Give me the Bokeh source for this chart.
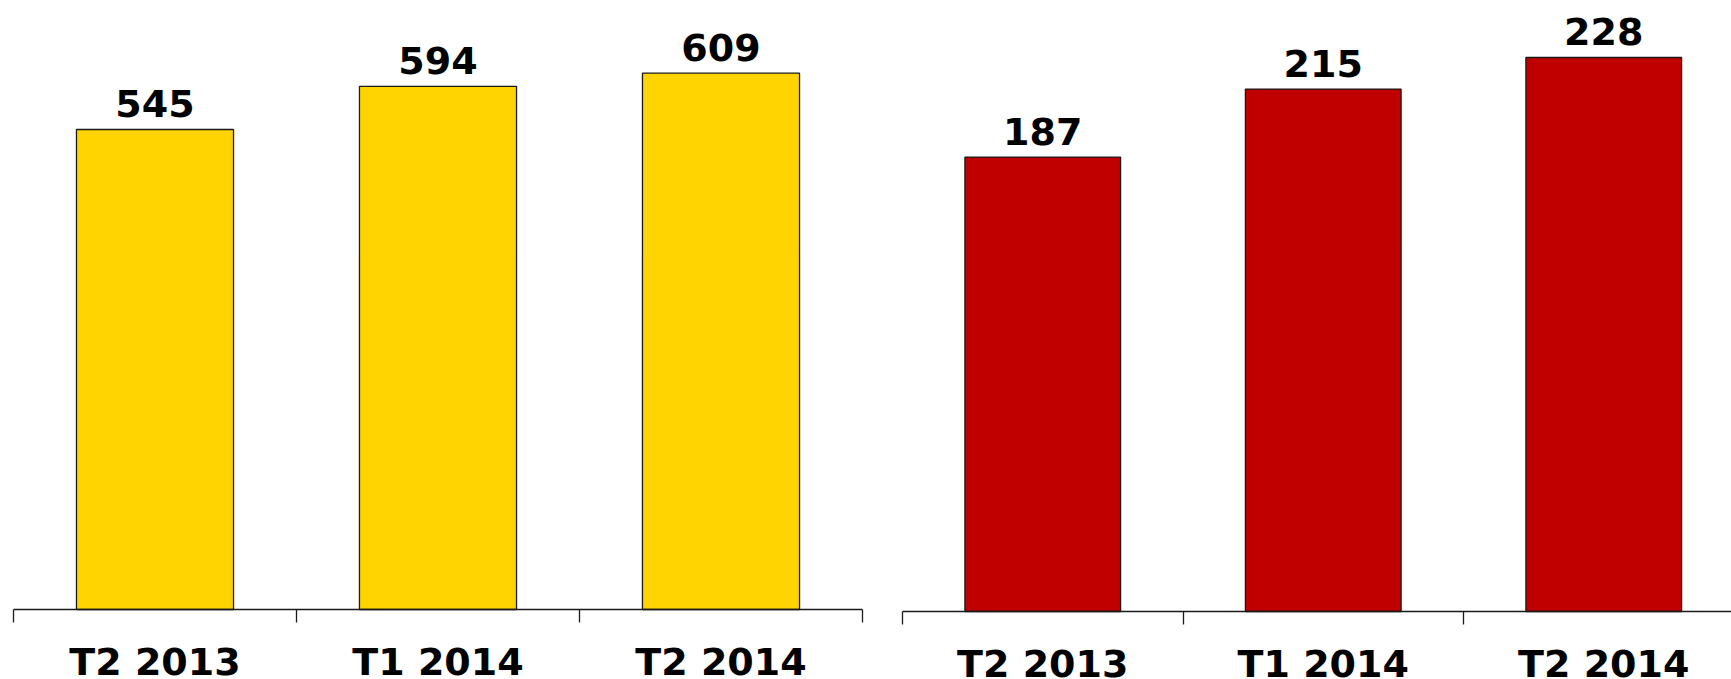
from bokeh.plotting import figure
from bokeh.models import Range1d, LinearAxis, FixedTicker, ColumnDataSource
from bokeh.layouts import row
from bokeh.core.properties import value
from bokeh.embed import file_html
from bokeh.resources import INLINE

# ---- data ----
categories = ["T2 2013", "T1 2014", "T2 2014"]
left_values = [545, 594, 609]
right_values = [187, 215, 228]
left_color = "#FFD400"
right_color = "#C00000"

FONT = "DejaVu Sans"
LINE = "#1a1a1a"
H = 679


def make_panel(values, color, width, x_range, y_range):
    p = figure(width=width, height=H, x_range=x_range, y_range=y_range,
               output_backend="svg", toolbar_location=None,
               x_axis_location=None, y_axis_location=None,
               min_border=0, min_border_left=0, min_border_right=0,
               min_border_top=0, min_border_bottom=0)
    p.outline_line_color = None
    p.xgrid.visible = False
    p.ygrid.visible = False
    p.background_fill_color = "white"
    p.border_fill_color = "white"

    n = len(categories)
    xs = [i + 0.5 for i in range(n)]
    src = ColumnDataSource(dict(x=xs, top=values,
                                lab=[str(v) for v in values]))
    p.vbar(x="x", top="top", bottom=0, width=0.555, source=src,
           fill_color=color, line_color=LINE, line_width=1.3)

    p.text(x="x", y="top", text="lab", source=src,
           text_font=value(FONT), text_font_style="bold",
           text_font_size="38px", text_color="black",
           text_align="center", text_baseline="alphabetic", y_offset=-26)

    # axis with boundary ticks
    tick_axis = LinearAxis(fixed_location=0, bounds=(0, n),
                           ticker=FixedTicker(ticks=list(range(n + 1))),
                           major_label_overrides={i: "" for i in range(n + 1)},
                           major_tick_out=13, major_tick_in=0,
                           minor_tick_line_color=None,
                           axis_line_color=LINE, axis_line_width=1.3,
                           major_tick_line_color=LINE, major_tick_line_width=1.3)
    p.add_layout(tick_axis, "below")

    # axis carrying the category labels
    label_axis = LinearAxis(fixed_location=0,
                            ticker=FixedTicker(ticks=xs),
                            major_label_overrides={x: c for x, c in zip(xs, categories)},
                            major_tick_out=0, major_tick_in=0,
                            minor_tick_line_color=None,
                            axis_line_color=None, major_tick_line_color=None,
                            major_label_standoff=30,
                            major_label_text_font=FONT,
                            major_label_text_font_style="bold",
                            major_label_text_font_size="38px",
                            major_label_text_color="black")
    p.add_layout(label_axis, "below")
    return p


# left panel: pixel 13 -> 0, 862 -> 3 ; zero at y=609
LW = 880
lx_scale = (862 - 13) / 3.0
left_x = Range1d((0 - 13) / lx_scale, 3 + (LW - 862) / lx_scale)
ly_scale = 480 / 545.0
left_y = Range1d(-(H - 609) / ly_scale, 609 / ly_scale)
p1 = make_panel(left_values, left_color, LW, left_x, left_y)

# right panel: pixel 902 -> 0, 1463 -> 2 ; zero at y=611
RW = 1731 - LW
rx_scale = (1463 - 902) / 2.0
right_x = Range1d((LW - 902) / rx_scale, (1731 - 902) / rx_scale)
ry_scale = 554 / 228.0
right_y = Range1d(-(H - 611) / ry_scale, 611 / ry_scale)
p2 = make_panel(right_values, right_color, RW, right_x, right_y)

layout = row(p1, p2, spacing=0)
open("out.html", "w").write(file_html(layout, INLINE))
